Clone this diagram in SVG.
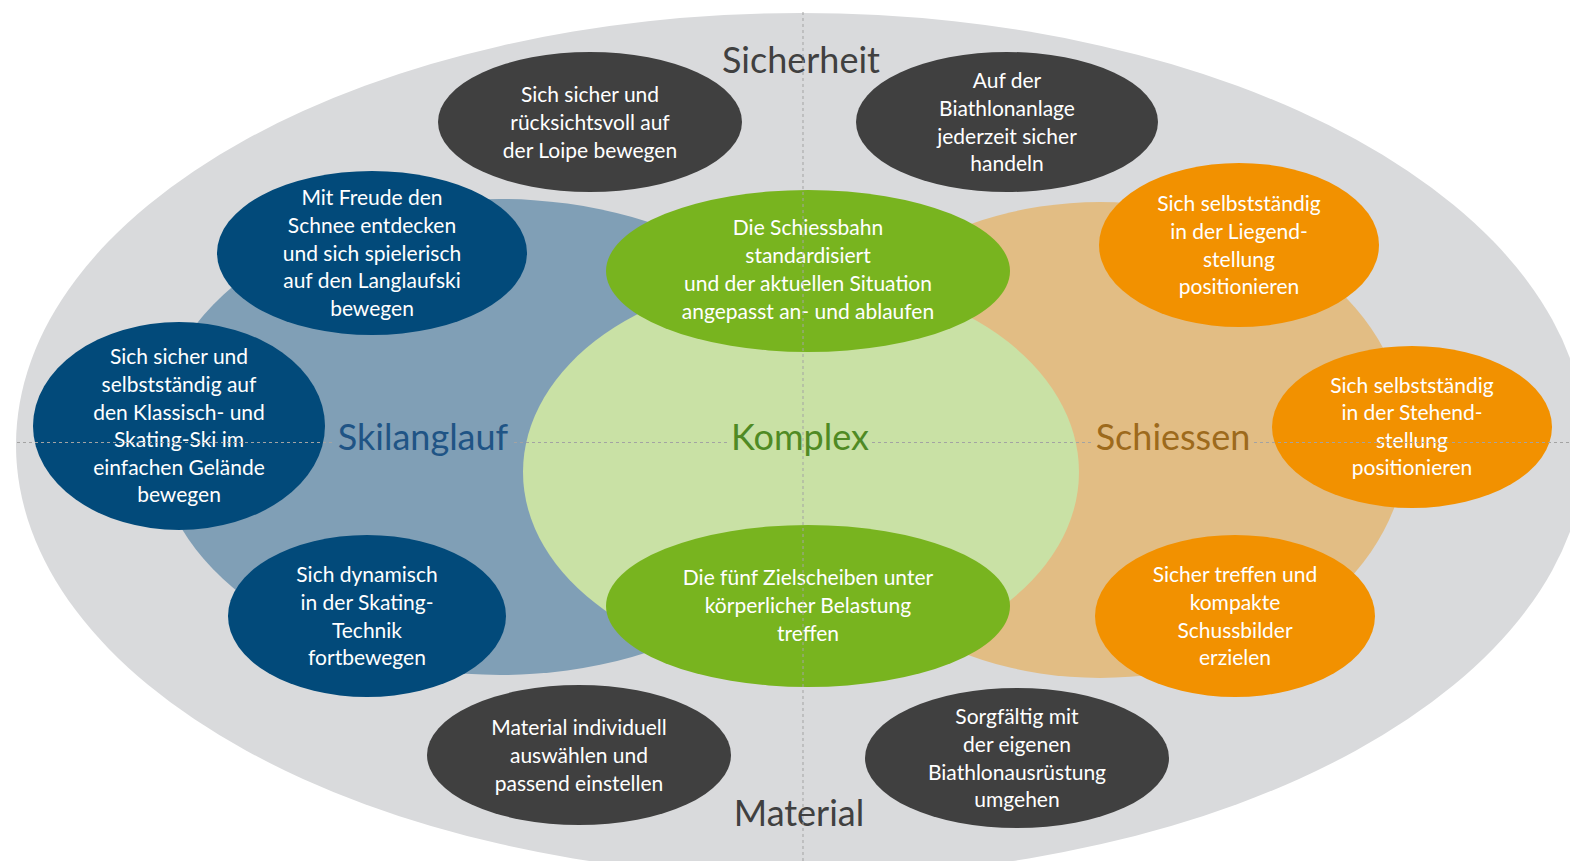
<svg xmlns="http://www.w3.org/2000/svg" width="1570" height="861" viewBox="0 0 1570 861">
<style>
.nt{font-family:Lato,"Open Sans","Liberation Sans",sans-serif;font-size:21px;fill:#ffffff;text-anchor:middle}
.lb{font-family:Lato,"Open Sans","Liberation Sans",sans-serif;font-size:36px;text-anchor:middle}
.dk{fill:#404040}
.bl{fill:#024a7a}
.gr{fill:#78b41f}
.or{fill:#f29100}
.dash{stroke:#a3a3a3;stroke-width:1;stroke-dasharray:3 3;fill:none}
</style>
<rect width="1570" height="861" fill="#ffffff"/>
<g id="areas">
<ellipse id="sicherheit-material" cx="801" cy="445" rx="785" ry="432" fill="#d9dadc"/>
<ellipse id="skilanglauf-area" cx="500" cy="437" rx="345" ry="238" fill="#809fb6"/>
<ellipse id="schiessen-area" cx="1100" cy="440" rx="307" ry="238" fill="#e2bd84"/>
<ellipse id="komplex-area" cx="801" cy="472" rx="278" ry="195" fill="#c9e1a5"/>
</g>
<g id="n1"><ellipse class="dk" cx="590" cy="122" rx="152" ry="70"/>
<text class="nt"><tspan x="590" y="102">Sich sicher und</tspan><tspan x="590" y="130">rücksichtsvoll auf</tspan><tspan x="590" y="158">der Loipe bewegen</tspan></text></g>
<g id="n2"><ellipse class="dk" cx="1007" cy="122" rx="151" ry="70"/>
<text class="nt"><tspan x="1007" y="88">Auf der</tspan><tspan x="1007" y="116">Biathlonanlage</tspan><tspan x="1007" y="144">jederzeit sicher</tspan><tspan x="1007" y="171">handeln</tspan></text></g>
<g id="n3"><ellipse class="dk" cx="579" cy="755" rx="152" ry="70"/>
<text class="nt"><tspan x="579" y="735">Material individuell</tspan><tspan x="579" y="763">auswählen und</tspan><tspan x="579" y="791">passend einstellen</tspan></text></g>
<g id="n4"><ellipse class="dk" cx="1017" cy="758" rx="152" ry="70"/>
<text class="nt"><tspan x="1017" y="724">Sorgfältig mit</tspan><tspan x="1017" y="752">der eigenen</tspan><tspan x="1017" y="780">Biathlonausrüstung</tspan><tspan x="1017" y="807">umgehen</tspan></text></g>
<g id="n5"><ellipse class="bl" cx="372" cy="253" rx="155" ry="82"/>
<text class="nt"><tspan x="372" y="205">Mit Freude den</tspan><tspan x="372" y="233">Schnee entdecken</tspan><tspan x="372" y="261">und sich spielerisch</tspan><tspan x="372" y="288">auf den Langlaufski</tspan><tspan x="372" y="316">bewegen</tspan></text></g>
<g id="n6"><ellipse class="bl" cx="179" cy="426" rx="146" ry="104"/>
<text class="nt"><tspan x="179" y="364">Sich sicher und</tspan><tspan x="179" y="392">selbstständig auf</tspan><tspan x="179" y="420">den Klassisch- und</tspan><tspan x="179" y="447">Skating-Ski im</tspan><tspan x="179" y="475">einfachen Gelände</tspan><tspan x="179" y="502">bewegen</tspan></text></g>
<g id="n7"><ellipse class="bl" cx="367" cy="616" rx="139" ry="81"/>
<text class="nt"><tspan x="367" y="582">Sich dynamisch</tspan><tspan x="367" y="610">in der Skating-</tspan><tspan x="367" y="638">Technik</tspan><tspan x="367" y="665">fortbewegen</tspan></text></g>
<g id="n8"><ellipse class="gr" cx="808" cy="271" rx="202" ry="81"/>
<text class="nt"><tspan x="808" y="235">Die Schiessbahn</tspan><tspan x="808" y="263">standardisiert</tspan><tspan x="808" y="291">und der aktuellen Situation</tspan><tspan x="808" y="319">angepasst an- und ablaufen</tspan></text></g>
<g id="n9"><ellipse class="gr" cx="808" cy="606" rx="202" ry="81"/>
<text class="nt"><tspan x="808" y="585">Die fünf Zielscheiben unter</tspan><tspan x="808" y="613">körperlicher Belastung</tspan><tspan x="808" y="641">treffen</tspan></text></g>
<g id="n10"><ellipse class="or" cx="1239" cy="245" rx="140" ry="82"/>
<text class="nt"><tspan x="1239" y="211">Sich selbstständig</tspan><tspan x="1239" y="239">in der Liegend-</tspan><tspan x="1239" y="267">stellung</tspan><tspan x="1239" y="294">positionieren</tspan></text></g>
<g id="n11"><ellipse class="or" cx="1412" cy="427" rx="140" ry="81"/>
<text class="nt"><tspan x="1412" y="393">Sich selbstständig</tspan><tspan x="1412" y="420">in der Stehend-</tspan><tspan x="1412" y="448">stellung</tspan><tspan x="1412" y="475">positionieren</tspan></text></g>
<g id="n12"><ellipse class="or" cx="1235" cy="616" rx="140" ry="81"/>
<text class="nt"><tspan x="1235" y="582">Sicher treffen und</tspan><tspan x="1235" y="610">kompakte</tspan><tspan x="1235" y="638">Schussbilder</tspan><tspan x="1235" y="665">erzielen</tspan></text></g>
<g id="connectors">
<line class="dash" x1="17" y1="442.5" x2="333" y2="442.5"/>
<line class="dash" x1="514" y1="442.5" x2="729" y2="442.5"/>
<line class="dash" x1="872" y1="442.5" x2="1092" y2="442.5"/>
<line class="dash" x1="1254" y1="442.5" x2="1570" y2="442.5"/>
</g>
<g id="labels">
<text class="lb" x="801" y="73" fill="#404040">Sicherheit</text>
<text class="lb" x="799" y="826" fill="#404040">Material</text>
<text class="lb" x="423" y="450" fill="#1f5485">Skilanglauf</text>
<text class="lb" x="800" y="450" fill="#4f8a24">Komplex</text>
<text class="lb" x="1173" y="450" fill="#9d6a1c">Schiessen</text>
</g>
<g id="axis">
<line class="dash" x1="803" y1="12" x2="803" y2="861"/>
</g>
</svg>
